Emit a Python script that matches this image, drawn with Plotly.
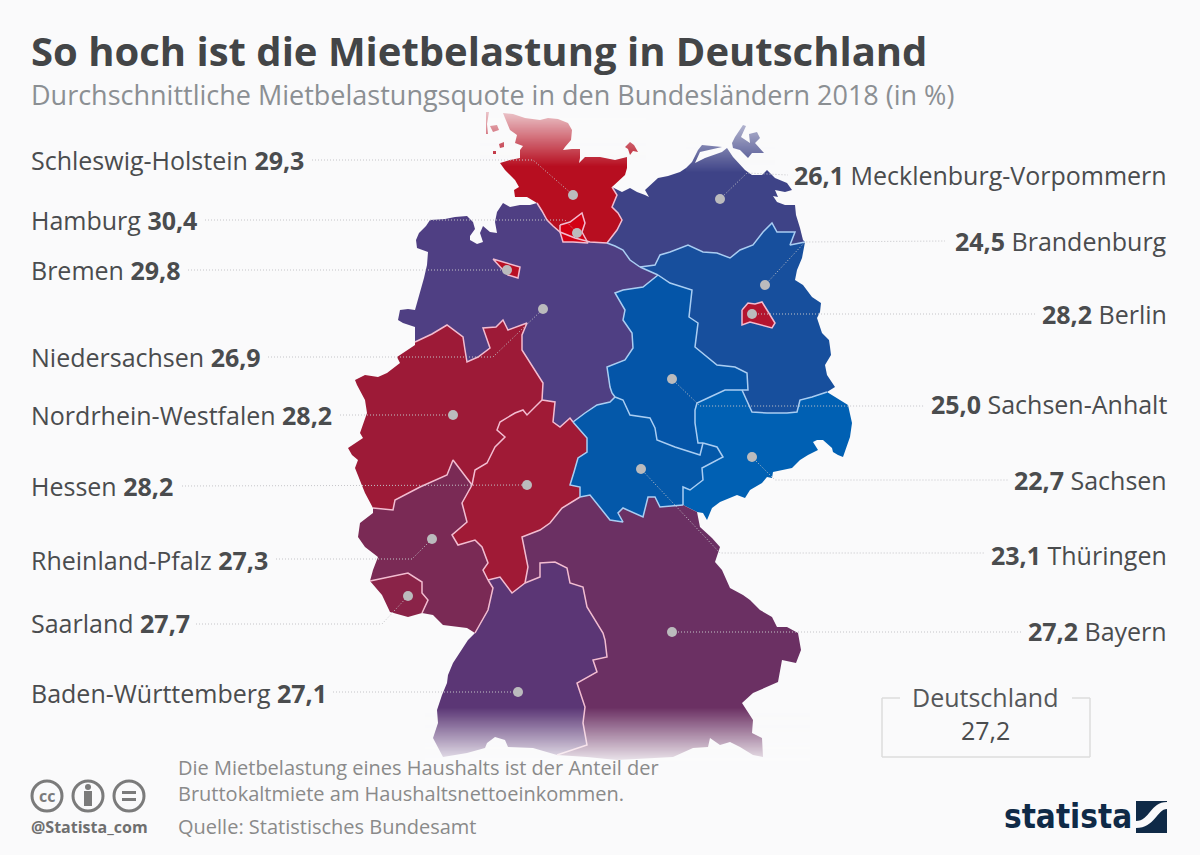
import plotly.graph_objects as go

# ---------- data ----------
STATES = ["Schleswig-Holstein", "Hamburg", "Bremen", "Niedersachsen", "Nordrhein-Westfalen", "Hessen",
          "Rheinland-Pfalz", "Saarland", "Baden-Württemberg", "Mecklenburg-Vorpommern", "Brandenburg",
          "Berlin", "Sachsen-Anhalt", "Sachsen", "Thüringen", "Bayern"]
VALUES = [29.3, 30.4, 29.8, 26.9, 28.2, 28.2, 27.3, 27.7, 27.1, 26.1, 24.5, 28.2, 25.0, 22.7, 23.1, 27.2]
GERMANY = 27.2
FILLS = ["#b70e20", "#d30013", "#b81024", "#4f3f83", "#9d1a37", "#a01a36", "#7a2a55", "#8a2348", "#5b3675",
         "#3e4387", "#174f9d", "#b3142f", "#0455a8", "#0060b3", "#0458a9", "#6b3063"]
LEFT_STATES = STATES[:9]
LEFT_Y = [160, 220, 270, 357, 415, 486, 560, 623, 693]
RIGHT_STATES = STATES[9:]
RIGHT_Y = [175, 241, 314, 404, 480, 555, 631]

# map outlines, shared border arcs in map units
sh_mv = [(612,187),(617,195),(612,207),(618,213),(622,220),(617,230),(607,243)]
sh_ni = [(607,243),(590,242),(575,238),(560,232),(553,226),(547,220),(542,211),(537,203)]
ni_mv = [(607,243),(615,246),(623,250),(630,260),(640,267)]
ni_bb = [(640,267),(658,275)]
mv_bb = [(640,267),(655,265),(660,255),(670,252),(688,245),(703,252),(717,253),(730,258),(740,250),(753,245),(763,232),(772,223),(777,232),(795,232),(790,245),(805,242)]
ni_st = [(658,275),(643,287),(623,290),(615,293),(625,310),(623,320),(632,333),(633,348),(625,360),(607,367),(610,387),(612,393),(615,397)]
st_bb = [(658,275),(670,283),(692,290),(689,317),(698,323),(695,347),(717,365),(735,367),(747,373),(748,390),(742,390)]
st_sn = [(742,390),(725,390),(710,397),(697,403),(695,410),(695,423),(698,443),(703,443)]
st_th = [(615,397),(623,400),(630,415),(650,418),(655,428),(657,440),(675,447),(688,451),(700,455),(703,443)]
bb_sn = [(742,390),(752,412),(767,413),(787,413),(797,412),(800,400),(812,397),(827,392)]
ni_th = [(573,422),(585,413),(597,405),(610,402),(615,397)]
ni_he = [(542,400),(555,402),(553,422),(560,427),(570,418),(573,422)]
he_th = [(573,422),(587,438),(587,452),(578,458),(574,472),(570,485),(580,487),(580,497)]
ni_nrw = [(415,342),(432,334),(447,325),(463,337),(465,350),(467,362),(478,357),(490,348),(483,328),(496,327),(503,320),(508,330),(527,323),(522,335),(522,350),(533,367),(543,383),(542,400)]
nrw_he = [(542,400),(527,415),(523,410),(515,413),(500,422),(497,430),(505,437),(495,447),(487,463),(475,470),(472,485)]
nrw_rp = [(472,485),(461,470),(453,460),(447,475),(420,487),(395,500),(393,510),(373,508)]
he_rp = [(472,485),(462,503),(467,522),(452,535),(458,545),(475,540),(482,547),(488,563),(483,570),(488,580)]
he_bw = [(488,580),(500,577),(512,593),(525,583)]
he_by = [(525,583),(528,567),(522,537),(540,530),(550,523),(562,508),(580,497)]
rp_bw = [(488,580),(493,588),(488,610),(475,633)]
th_by = [(580,497),(590,495),(610,520),(623,522),(618,513),(623,508),(643,517),(648,497),(655,497),(660,507),(683,505)]
th_sn = [(703,443),(717,447),(723,457),(702,468),(703,480),(690,490),(683,487),(683,505)]
bw_by = [(525,583),(540,577),(540,563),(555,562),(567,568),(570,583),(583,587),(587,607),(603,633),(605,640),(607,657),(593,660),(597,672),(577,683),(585,707),(583,723),(587,745),(557,755)]
rp_sl = [(422,613),(428,600),(422,593),(422,582),(408,573),(398,575),(370,581)]

sh_outer = [(537,203),(527,197),(515,197),(514,190),(519,187),(515,180),(512,177),(505,170),(500,163),(510,160),(520,158),(520,150),(523,146),(515,143),(517,135),(510,130),(505,118),(503,113),(513,114),(525,118),(540,120),(548,118),(558,119),(568,123),(572,130),(571,140),(565,147),(563,150),(572,149),(580,149),(580,158),(579,163),(585,157),(600,157),(615,160),(627,157),(627,168),(625,175),(612,187)]
ni_coast = [(415,327),(403,323),(398,320),(400,310),(408,309),(415,310),(417,303),(420,290),(424,278),(427,265),(428,252),(417,248),(416,240),(419,233),(426,226),(430,220),(445,219),(455,217),(467,216),(473,222),(475,229),(470,236),(470,240),(477,244),(483,242),(480,233),(483,226),(490,232),(497,233),(495,222),(497,212),(503,203),(510,207),(520,205),(530,205)]
nrw_west = [(365,493),(355,468),(358,460),(352,455),(348,448),(363,438),(360,433),(367,413),(365,400),(357,385),(355,380),(365,375),(378,377),(387,373),(400,363),(397,357),(415,345)]
rp_south = [(467,628),(443,625),(433,615)]
rp_west = [(373,570),(378,557),(365,547),(358,537),(360,523),(373,513)]
sl_south = [(382,595),(390,612),(408,617)]
bw_south = [(533,748),(508,747),(505,740),(495,737),(487,743),(485,748),(467,753),(443,757),(433,738),(438,723),(437,710),(442,695),(447,683),(448,675),(453,663),(460,652),(468,640)]
by_east = [(697,512),(700,527),(712,538),(720,547),(715,562),(722,570),(727,582),(730,588),(743,595),(750,600),(760,610),(772,617),(777,627),(787,627),(798,633),(801,650),(796,663),(782,660),(778,682),(767,687),(753,693),(742,703),(753,720),(752,733),(762,738),(763,757),(753,755),(740,747),(730,742),(720,745),(710,738),(708,747),(693,748),(673,757),(650,758),(617,760),(587,757)]
sn_outer = [(848,405),(852,423),(850,437),(843,457),(838,455),(833,452),(832,448),(823,440),(817,440),(813,442),(818,450),(808,455),(800,460),(792,468),(773,472),(772,478),(767,477),(762,483),(750,490),(745,498),(737,495),(720,502),(712,508),(707,520),(703,513),(697,512)]
bb_east = [(802,258),(797,270),(795,280),(803,285),(812,297),(821,303),(820,312),(817,318),(822,333),(829,340),(830,347),(831,355),(825,365),(827,375),(835,387)]
mv_coast = [(622,192),(630,188),(637,192),(645,195),(649,197),(645,190),(655,181),(658,178),(668,176),(680,172),(686,168),(692,162),(698,150),(702,145),(722,147),(700,152),(695,163),(705,158),(722,152),(727,148),(733,157),(740,165),(745,170),(752,175),(762,175),(767,170),(775,178),(787,183),(792,190),(785,192),(775,190),(778,197),(773,196),(777,202),(785,205),(795,205),(796,215),(800,228),(803,240)]
hh_shape = [(560,225),(570,222),(582,213),(585,223),(582,232),(588,243),(573,242),(563,242),(560,232)]
hb_shape = [(493,259),(507,263),(520,267),(518,278),(508,275),(503,270),(497,263)]
be_shape = [(742,310),(748,303),(755,304),(762,302),(767,310),(775,323),(772,328),(760,325),(750,322),(742,325)]
sh_islands = [[(486,112),(489,112),(487,124),(488,134),(486,134)],
              [(490,126),(497,125),(499,130),(493,132)],
              [(499,144),(504,142),(504,147),(500,148)],
              [(493,151),(496,151),(496,154),(493,154)],
              [(625,147),(630,142),(634,145),(638,152),(633,151),(630,155),(628,149)]]
mv_islands = [[(732,143),(735,137),(743,125),(746,126),(741,137),(750,143),(749,134),(757,132),(760,138),(755,143),(764,153),(752,153),(748,158),(740,150),(733,148)]]

rev = lambda arc: arc[::-1]
SHAPES = {
    "Schleswig-Holstein": [sh_outer + sh_mv + sh_ni] + sh_islands,
    "Niedersachsen": [rev(sh_ni) + ni_mv + ni_bb + ni_st + rev(ni_th) + rev(ni_he) + rev(ni_nrw) + ni_coast],
    "Nordrhein-Westfalen": [ni_nrw + nrw_he + nrw_rp + nrw_west],
    "Hessen": [ni_he + he_th + rev(he_by) + rev(he_bw) + rev(he_rp) + rev(nrw_he)],
    "Rheinland-Pfalz": [rev(nrw_rp) + he_rp + rp_bw + rp_south + rp_sl + rp_west],
    "Saarland": [rp_sl + sl_south],
    "Baden-Württemberg": [rev(rp_bw) + he_bw + bw_by + bw_south],
    "Bayern": [he_by + th_by + by_east + rev(bw_by)],
    "Thüringen": [ni_th + st_th + th_sn + rev(th_by) + rev(he_th)],
    "Sachsen-Anhalt": [rev(ni_st) + st_bb + st_sn + rev(st_th)],
    "Sachsen": [bb_sn + sn_outer + rev(th_sn) + rev(st_sn)],
    "Brandenburg": [mv_bb + bb_east + rev(bb_sn) + rev(st_bb) + rev(ni_bb)],
    "Mecklenburg-Vorpommern": [sh_mv[:1] + mv_coast + rev(mv_bb) + rev(ni_mv) + rev(sh_mv)] + mv_islands,
    "Hamburg": [hh_shape], "Bremen": [hb_shape], "Berlin": [be_shape],
}
DRAW_ORDER = ["Schleswig-Holstein", "Mecklenburg-Vorpommern", "Niedersachsen", "Brandenburg", "Sachsen-Anhalt",
              "Sachsen", "Thüringen", "Nordrhein-Westfalen", "Hessen", "Rheinland-Pfalz", "Baden-Württemberg",
              "Bayern", "Saarland", "Hamburg", "Bremen", "Berlin"]

PINK_BORDERS = [sh_mv, sh_ni, ni_nrw, nrw_he, nrw_rp, he_rp, he_bw, he_by, rp_bw, ni_he, rp_sl, bw_by,
                hh_shape + hh_shape[:1], hb_shape + hb_shape[:1], be_shape + be_shape[:1]]
BLUE_BORDERS = [ni_mv, ni_bb, mv_bb, ni_st, st_bb, st_sn, st_th, bb_sn, ni_th, he_th, th_by, th_sn]

# leader lines: state -> route from label to dot
LEADERS = {
    "Schleswig-Holstein": [(312,160),(533,160),(573,195)],
    "Hamburg": [(205,220),(565,220),(577,233)],
    "Bremen": [(188,270),(507,270)],
    "Niedersachsen": [(268,357),(493,357),(543,309)],
    "Nordrhein-Westfalen": [(340,415),(453,415)],
    "Hessen": [(182,486),(527,485)],
    "Rheinland-Pfalz": [(276,559),(412,559),(432,539)],
    "Saarland": [(196,624),(382,624),(408,596)],
    "Baden-Württemberg": [(333,692),(518,692)],
    "Mecklenburg-Vorpommern": [(720,199),(747,173),(788,175)],
    "Brandenburg": [(765,285),(805,242),(945,241)],
    "Berlin": [(752,314),(1035,314)],
    "Sachsen-Anhalt": [(672,379),(700,406),(925,406)],
    "Sachsen": [(752,457),(775,480),(1008,480)],
    "Thüringen": [(641,469),(720,553),(985,553)],
    "Bayern": [(672,632),(1022,632)],
}
BG = "#fafafb"
fmt = lambda v: f"{v:.1f}".replace(".", ",")
val = dict(zip(STATES, VALUES))
fill = dict(zip(STATES, FILLS))

fig = go.Figure()
for name in DRAW_ORDER:
    xs, ys = [], []
    for poly in SHAPES[name]:
        xs += [p[0] for p in poly] + [poly[0][0], None]
        ys += [p[1] for p in poly] + [poly[0][1], None]
    fig.add_trace(go.Scatter(x=xs, y=ys, mode="lines", fill="toself", fillcolor=fill[name],
                             line=dict(width=0, color=fill[name]), name=name,
                             text=f"{name} {fmt(val[name])}", hoverinfo="text", showlegend=False))

for arcs, col in ((PINK_BORDERS, "#f2bcd0"), (BLUE_BORDERS, "#a9cdf2")):
    for arc in arcs:
        fig.add_trace(go.Scatter(x=[p[0] for p in arc], y=[p[1] for p in arc], mode="lines",
                                 line=dict(width=1.5, color=col), hoverinfo="skip", showlegend=False))

for name, route in LEADERS.items():
    fig.add_trace(go.Scatter(x=[p[0] for p in route], y=[p[1] for p in route], mode="lines",
                             line=dict(width=1, color="#c4c4c8", dash="1px 2px"), hoverinfo="skip", showlegend=False))
DOTS = [LEADERS[n][-1] if n in LEFT_STATES else LEADERS[n][0] for n in STATES]
fig.add_trace(go.Scatter(x=[d[0] for d in DOTS], y=[d[1] for d in DOTS], mode="markers",
                         marker=dict(size=10, color="#bbbbbd"), hoverinfo="skip", showlegend=False))

shapes = []
def fade(x0, x1, y0, y1, a0, a1):
    for y in range(y0, y1):
        a = a0 + (a1 - a0) * (y - y0) / (y1 - y0)
        shapes.append(dict(type="rect", x0=x0, x1=x1, y0=y, y1=y + 1, fillcolor=BG, opacity=a, line=dict(width=0)))
fade(480, 646, 110, 166, 0.8, 0.0)
fade(686, 775, 122, 172, 0.65, 0.0)
fade(425, 810, 707, 765, 0.0, 0.97)

# Deutschland box
for x0, y0, x1, y1 in [(882,698,900,698),(1072,698,1090,698),(882,698,882,757),(1090,698,1090,757),(882,757,1090,757)]:
    shapes.append(dict(type="line", x0=x0, y0=y0, x1=x1, y1=y1, line=dict(color="#dcdcdc", width=1.5)))
# licence icons
for cx in (47, 88, 129):
    shapes.append(dict(type="circle", x0=cx-15, x1=cx+15, y0=781, y1=811, line=dict(color="#7b7b7b", width=3)))
shapes.append(dict(type="circle", x0=85, x1=91, y0=784, y1=790, fillcolor="#7b7b7b", line=dict(width=0)))
shapes.append(dict(type="rect", x0=84, x1=92, y0=791, y1=806, fillcolor="#7b7b7b", line=dict(width=0)))
shapes.append(dict(type="rect", x0=122, x1=136, y0=791, y1=794, fillcolor="#7b7b7b", line=dict(width=0)))
shapes.append(dict(type="rect", x0=122, x1=136, y0=798, y1=801, fillcolor="#7b7b7b", line=dict(width=0)))
# logo mark
shapes.append(dict(type="rect", x0=1136, x1=1167, y0=801, y1=833, fillcolor="#0f2a47", line=dict(width=0)))
shapes.append(dict(type="path", path="M1136,821 C1150,821 1150,802 1167,802 L1167,809 C1157,809 1155,828 1136,828 Z",
                   fillcolor=BG, line=dict(width=0)))

ann = []
def text(x, y, s, size, color, anchor="left"):
    ann.append(dict(x=x, y=y, xref="x", yref="y", text=s, showarrow=False, xanchor=anchor, yanchor="middle",
                    align=anchor, font=dict(family="Open Sans", size=size, color=color)))
text(29, 50, "<b>So hoch ist die Mietbelastung in Deutschland</b>", 40, "#434547")
text(29, 94, "Durchschnittliche Mietbelastungsquote in den Bundesländern 2018 (in %)", 27, "#8b8f93")
for n, y in zip(LEFT_STATES, LEFT_Y):
    text(29, y, f"{n} <b>{fmt(val[n])}</b>", 25, "#4a4c4e")
for n, y in zip(RIGHT_STATES, RIGHT_Y):
    text(1169, y, f"<b>{fmt(val[n])}</b> {n}", 25, "#4a4c4e", "right")
text(985, 697, "Deutschland", 25, "#555759", "center")
text(985, 730, fmt(GERMANY), 25, "#4a4c4e", "center")
text(176, 780, "Die Mietbelastung eines Haushalts ist der Anteil der<br>Bruttokaltmiete am Haushaltsnettoeinkommen.", 20, "#8a8a8a")
text(176, 826, "Quelle: Statistisches Bundesamt", 20, "#8a8a8a")
text(47, 796, "<b>cc</b>", 16, "#7b7b7b", "center")
text(29, 827, "<b>@Statista_com</b>", 16, "#6f6f6f")
ann.append(dict(x=1002, y=816, xref="x", yref="y", text="<b>statista</b>", showarrow=False, xanchor="left", yanchor="middle",
                font=dict(family="DejaVu Sans Condensed, Roboto, sans-serif", size=33, color="#0f2a47")))

fig.update_layout(width=1200, height=855, margin=dict(l=0, r=0, t=0, b=0), paper_bgcolor=BG, plot_bgcolor=BG,
                  shapes=shapes, annotations=ann, showlegend=False,
                  xaxis=dict(range=[0, 1200], visible=False, fixedrange=True),
                  yaxis=dict(range=[855, 0], visible=False, fixedrange=True))
fig.write_html("out.html", post_script="document.body.style.margin='0';", config=dict(displayModeBar=False))
